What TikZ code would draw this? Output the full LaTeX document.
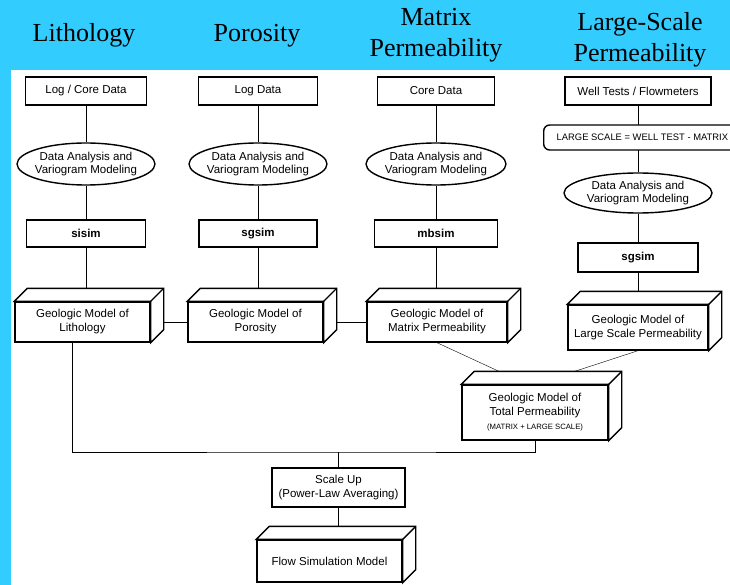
\documentclass[tikz,border=0pt]{standalone}
\usepackage{fontspec}
\setmainfont{Liberation Serif}
\setsansfont{Liberation Sans}
\usepackage{tikz}
\usetikzlibrary{shapes.geometric, backgrounds, calc}
\tikzset{>=stealth}
\definecolor{headblue}{RGB}{51,204,255}

\begin{document}
\begin{tikzpicture}[x=1pt, y=-1pt, line width=1.4pt,
	head/.style={font=\fontsize{26}{31}\selectfont, align=center, anchor=base},
	data/.style={draw, fill=white, align=center, inner sep=0pt, font=\sffamily\fontsize{11.5}{14}\selectfont},
	prog/.style={data, font=\sffamily\bfseries\fontsize{11.5}{14}\selectfont},
	vario/.style={draw, fill=white, ellipse, inner sep=0pt, minimum width=138pt, minimum height=42pt,
		label={[font=\sffamily\fontsize{11.5}{13}\selectfont, align=center]center:{Data Analysis and\\Variogram Modeling}}},
	rulebox/.style={draw, fill=white, rounded corners=6pt, anchor=west, minimum height=25pt, inner xsep=13pt,
		font=\sffamily\fontsize{9.4}{10}\selectfont},
	geo/.style={data, append after command={\pgfextra{
		\draw[fill=white] (\tikzlastnode.north west) -- ++(13pt,13pt) -- ([shift={(13pt,13pt)}]\tikzlastnode.north east)
			-- ([shift={(13pt,13pt)}]\tikzlastnode.south east) -- (\tikzlastnode.south east) -- (\tikzlastnode.north east) -- cycle;
		\draw (\tikzlastnode.north east) -- ++(13pt,13pt);}}}]
		\useasboundingbox (0,0) rectangle (730,585);
		\node[head] (lith) at (84,42) {Lithology};
		\node[head] (poro) at (257,42) {Porosity};
		\node[head] (matr) at (436,57) {Matrix\\Permeability};
		\node[head] (larg) at (640,62) {Large-Scale\\Permeability};
		
		\node[data, minimum width=121pt, minimum height=28pt] (log1) at (86,91) {Log / Core Data};
		\node[vario] (var1) at (86,164) {};
		\node[prog, minimum width=119pt, minimum height=27pt] (sis) at (86,233.5) {sisim};
		\node[geo, minimum width=135pt, minimum height=40pt] (geoLith) at (82.5,322) {Geologic Model of\\Lithology};
		
		\node[data, minimum width=119pt, minimum height=28pt] (log2) at (258,91) {Log Data};
		\node[vario] (var2) at (258,164) {};
		\node[prog, minimum width=118pt, minimum height=27pt] (sgs1) at (258,233.5) {sgsim};
		\node[geo, minimum width=135pt, minimum height=40pt] (geoPor) at (255.5,322) {Geologic Model of\\Porosity};
		
		\node[data, minimum width=117pt, minimum height=28pt] (core) at (436,91) {Core Data};
		\node[vario, minimum width=140pt] (var3) at (436,164) {};
		\node[prog, minimum width=123pt, minimum height=27pt] (mbs) at (436,233.5) {mbsim};
		\node[geo, minimum width=140pt, minimum height=40pt] (geoMat) at (437,322) {Geologic Model of\\Matrix Permeability};
		
		\node[data, minimum width=146pt, minimum height=28pt] (well) at (638,91) {Well Tests / Flowmeters};
		\node[rulebox] (rule) at (543,137.5) {LARGE SCALE = WELL TEST - MATRIX};
		\node[vario, minimum width=148pt, minimum height=40pt] (var4) at (638,193) {};
		\node[prog, minimum width=120pt, minimum height=29pt] (sgs2) at (638,257.5) {sgsim};
		\node[geo, minimum width=140pt, minimum height=45pt] (geoLS) at (638,327.5) {Geologic Model of\\Large Scale Permeability};
		
		\node[geo, minimum width=146pt, minimum height=55pt] (geoTot) at (535,412.5)
			{Geologic Model of\\Total Permeability\\{\fontsize{7.7}{9}\selectfont (MATRIX + LARGE SCALE)}};
		\coordinate (bus) at (338.5,452);
		\node[data, minimum width=133pt, minimum height=39pt] (scale) at (338.5,487.5) {Scale Up\\(Power-Law Averaging)};
		\node[geo, minimum width=145pt, minimum height=42pt] (flow) at (329.5,561) {Flow Simulation Model};
		
		\begin{scope}[on background layer]
		\fill[headblue] (0,0) rectangle (730,585);
		\fill[white] (11,70) rectangle (730,585);
		\draw (log1) -- (var1) -- (sis) -- (sis |- geoLith);
		\draw (log2) -- (var2) -- (sgs1) -- (sgs1 |- geoPor);
		\draw (core) -- (var3) -- (mbs) -- (mbs |- geoMat);
		\draw (well) -- (well |- rule) -- (var4) -- (sgs2) -- (geoLS);
		\draw (geoLith) -- (geoPor) -- (geoMat);
		\draw (geoMat.south) -- ([xshift=-8pt]geoTot.north);
		\draw (geoLS.south) -- (geoTot.north);
		\draw ([xshift=-10pt]geoLith.south) |- (bus) -| (geoTot);
		\draw (bus) -- (scale) -- (scale |- flow);
		\end{scope}
\end{tikzpicture}
\end{document}
